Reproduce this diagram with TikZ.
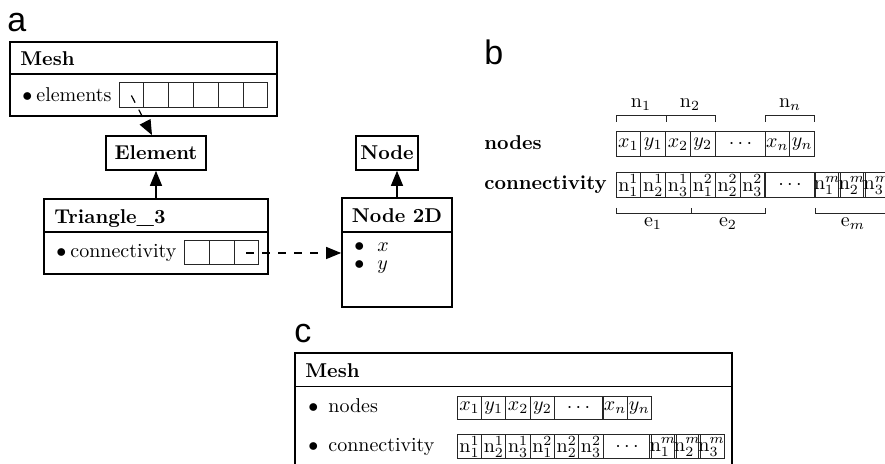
\documentclass[tikz,border=0pt]{standalone}
\usepackage{fontspec}
\newfontfamily\panelfont{Liberation Sans}
\usetikzlibrary{arrows.meta}

\tikzset{
  classbox/.style={draw, line width=0.85pt, inner sep=0pt},
  divider/.style={line width=0.6pt},
  cell/.style={draw=black!85, line width=0.5pt, inner sep=0pt, minimum width=12.4pt, minimum height=12.5pt},
  ccell/.style={cell, minimum width=12.15pt, minimum height=11.5pt},
  brace/.style={draw=black!85, line width=0.5pt},
  tag/.style={anchor=base west, inner sep=0pt, font=\panelfont\fontsize{17}{20}\selectfont},
  txt/.style={anchor=base west, inner sep=0pt},
  isa/.style={line width=0.6pt, -{Triangle[length=7.5pt,width=6pt]}},
  ref/.style={line width=0.6pt, dash pattern=on 4pt off 4pt, -{Triangle[length=7.5pt,width=6pt]}},
}

\begin{document}
\begin{tikzpicture}[x=0.5pt,y=0.5pt,yscale=-1,xscale=1]
\useasboundingbox (0,0) rectangle (885,464);
\clip (0,0) rectangle (885,464);

% Panel labels
\node[tag] (taga) at (7,32) {a};
\node[tag] (tagb) at (484,65) {b};
\node[tag] (tagc) at (294,343) {c};

%%% (a) class diagram
%Shape: Mesh class
\node[classbox, minimum width=133.5pt, minimum height=37pt] (mesha) at (143.5,79) {};
\draw[divider] (10,74) -- (277,74);
\node[txt] (meshatitle) at (20,66) {\textbf{Mesh}};
\node[txt] (elemtxt) at (22,102) {$\bullet$\hspace{2pt}elements};
\foreach \i in {1,...,6}
  \node[cell] (el\i) at (106.6+24.8*\i,95.5) {};

%Shape: Element / Node
\node[classbox, minimum width=50pt, minimum height=17pt] (element) at (156,153) {\textbf{Element}};
\node[classbox, minimum width=31pt, minimum height=17pt] (nodeb) at (387,153) {\textbf{Node}};

%Shape: Triangle_3 class
\node[classbox, minimum width=112pt, minimum height=37.5pt] (tri) at (156,236.5) {};
\draw[divider] (44,232) -- (268,232);
\node[txt] (trititle) at (54,224) {\textbf{Triangle\_3}};
\node[txt] (contxt) at (56,258) {$\bullet$\hspace{2pt}connectivity};
\foreach \i in {1,2,3}
  \node[cell, minimum width=12.35pt, minimum height=12pt] (co\i) at (172.3+24.7*\i,253) {};

%Shape: Node 2D class
\node[classbox, minimum width=55pt, minimum height=54.5pt] (node2d) at (397,252.5) {};
\draw[divider] (342,232) -- (452,232);
\node[anchor=base, inner sep=0pt] (node2dtitle) at (397,223) {\textbf{Node 2D}};
\node[txt] (xtxt) at (354,252) {$\bullet$\hspace{6.5pt}$x$};
\node[txt] (ytxt) at (354,270) {$\bullet$\hspace{6.5pt}$y$};

% Connectors
\draw[isa] (tri.north) -- (element.south);
\draw[isa] (node2d.north) -- (node2d.north |- nodeb.south);
\draw[ref] (el1.center) -- ([xshift=-2pt]element.north);
\draw[ref] (co3.center) -- (co3.center -| node2d.west);

%%% (b) flat arrays
\node[txt] (ndlbl) at (484,150) {\textbf{nodes}};
\node[txt] (cnlbl) at (484,190) {\textbf{connectivity}};

\foreach \t [count=\i] in {x_1,y_1,x_2,y_2}
  \node[cell] (nd\i) at (603.6+24.8*\i,144.5) {$\t$};
\node[cell, minimum width=24.6pt] (nddots) at (740.5,144.5) {$\cdots$};
\node[cell] (ndn1) at (777.4,144.5) {$x_n$};
\node[cell] (ndn2) at (802.2,144.5) {$y_n$};

\foreach \t [count=\i] in {1^1,2^1,3^1,1^2,2^2,3^2}
  \node[cell] (cn\i) at (603.6+24.8*\i,185.5) {$\mathrm{n}_\t$};
\node[cell, minimum width=25pt] (cndots) at (790,185.5) {$\cdots$};
\foreach \t [count=\i] in {1,2,3}
  \node[cell] (cnm\i) at (802.4+24.8*\i,185.5) {$\mathrm{n}_\t^m$};

% brackets over the node pairs
\draw[brace] (616,122) -- (616,116) -- (715,116) -- (715,122) (666,116) -- (666,122)
             (765,122) -- (765,116) -- (814,116) -- (814,122);
\node[anchor=base, inner sep=0pt] (n1) at (641,108) {$\mathrm{n}_1$};
\node[anchor=base, inner sep=0pt] (n2) at (690,108) {$\mathrm{n}_2$};
\node[anchor=base, inner sep=0pt] (nn) at (790,108) {$\mathrm{n}_n$};

% brackets under the element triples
\draw[brace] (616,208) -- (616,214) -- (765,214) -- (765,208) (691,214) -- (691,208)
             (815,208) -- (815,214) -- (889,214) -- (889,208);
\node[anchor=base, inner sep=0pt] (e1) at (653,227) {$\mathrm{e}_1$};
\node[anchor=base, inner sep=0pt] (e2) at (728,227) {$\mathrm{e}_2$};
\node[anchor=base, inner sep=0pt] (em) at (853,227) {$\mathrm{e}_m$};

%%% (c) Mesh holding both arrays
\node[classbox, minimum width=218.5pt, minimum height=73.5pt] (meshc) at (513.5,426.5) {};
\draw[divider] (295,386.5) -- (732,386.5);
\node[txt] (meshctitle) at (305,378) {\textbf{Mesh}};
\node[txt] (cndtxt) at (308,413) {$\bullet$\hspace{5pt}nodes};
\node[txt] (ccntxt) at (308,452) {$\bullet$\hspace{5pt}connectivity};

\foreach \t [count=\i] in {x_1,y_1,x_2,y_2}
  \node[ccell] (cnd\i) at (445.2+24.3*\i,408) {$\t$};
\node[ccell, minimum width=24.5pt] (cnddots) at (578.5,408) {$\cdots$};
\node[ccell] (cndn1) at (615,408) {$x_n$};
\node[ccell] (cndn2) at (639.3,408) {$y_n$};

\foreach \t [count=\i] in {1^1,2^1,3^1,1^2,2^2,3^2}
  \node[ccell, minimum height=12pt] (ccn\i) at (445.2+24.3*\i,447) {$\mathrm{n}_\t$};
\node[ccell, minimum width=24pt, minimum height=12pt] (ccndots) at (627,447) {$\cdots$};
\foreach \t [count=\i] in {1,2,3}
  \node[ccell, minimum height=12pt] (ccnm\i) at (638.7+24.3*\i,447) {$\mathrm{n}_\t^m$};

\end{tikzpicture}
\end{document}
